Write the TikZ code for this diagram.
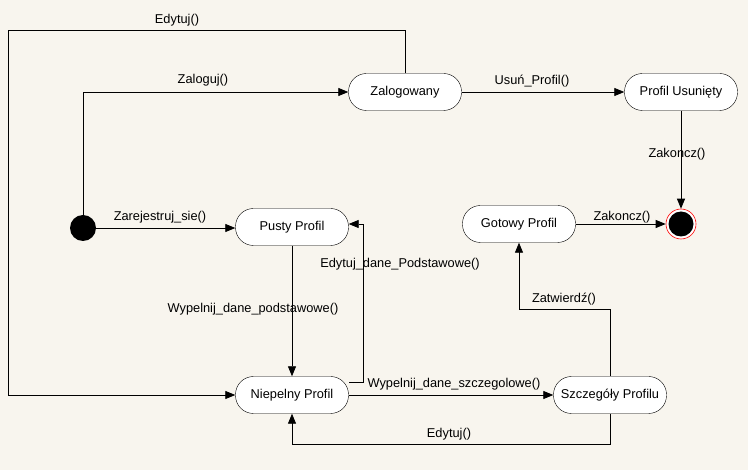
\documentclass[tikz,border=0pt]{standalone}
\usepackage{fontspec}
\setmainfont{Liberation Sans}
\usetikzlibrary{arrows.meta}
\definecolor{bg}{HTML}{F8F5EE}
\tikzset{
  state/.style={draw=black, fill=white, rounded corners=18pt, minimum width=113pt, minimum height=37pt, inner sep=0pt, font=\fontsize{12.8}{14}\selectfont},
  conn/.style={draw=black, line width=0.8pt, -{Triangle[length=10pt,width=8pt]}},
  lbl/.style={font=\fontsize{12.8}{14}\selectfont, inner sep=0pt}
}
\begin{document}
\begin{tikzpicture}[x=1pt,y=-1pt]
\fill[bg] (0,0) rectangle (748,470);
\useasboundingbox (0,0) rectangle (748,470);

% states
\node[state] (zal) at (405,92) {Zalogowany};
\node[state] (usun) at (681,92) {Profil Usunięty};
\node[state] (pusty) at (292,227) {Pusty Profil};
\node[state] (gotowy) at (519,224) {Gotowy Profil};
\node[state] (niep) at (292,395) {Niepelny Profil};
\node[state] (szcz) at (610,395) {Szczegóły Profilu};

% initial and final
\node[circle, fill=black, minimum size=26pt, inner sep=0pt] (init) at (83,228) {};
\node[circle, draw=red, fill=white, line width=0.6pt, minimum size=30pt, inner sep=0pt] (fin) at (681,224) {};
\node[circle, fill=black, minimum size=25pt, inner sep=0pt] (finin) at (681,224) {};

% waypoints
\coordinate (e1) at (405,30);
\coordinate (e2) at (8,30);
\coordinate (e3) at (8,395);
\coordinate (z1) at (83,92);
\coordinate (ed1) at (349,382);
\coordinate (ed2) at (363,382);
\coordinate (ed3) at (363,224);
\coordinate (t1) at (610,309);
\coordinate (t2) at (519,309);
\coordinate (b1) at (610,444);
\coordinate (b2) at (292,444);

% connectors
\draw[conn] (zal.north) -- (e1) -- (e2) -- (e3) -- (niep.west);
\draw[conn] (init.north) -- (z1) -- (zal.west);
\draw[conn] (zal.east) -- (usun.west);
\draw[conn] (usun.south) -- (fin.north);
\draw[conn] (gotowy.east) -- (fin.west);
\draw[conn] (init.east) -- (pusty.west |- init.east);
\draw[conn] (pusty.south) -- (niep.north);
\draw[conn] (ed1) -- (ed2) -- (ed3) -- (pusty.east |- ed3);
\draw[conn] (niep.east) -- (szcz.west);
\draw[conn] (szcz.north) -- (t1) -- (t2) -- (gotowy.south);
\draw[conn] (szcz.south) -- (b1) -- (b2) -- (niep.south);

% labels
\node[lbl] (l1) at (177,20) {Edytuj()};
\node[lbl] (l2) at (203,80) {Zaloguj()};
\node[lbl] (l3) at (532,81) {Usuń\_Profil()};
\node[lbl] (l4) at (677,154) {Zakoncz()};
\node[lbl] (l5) at (622,217) {Zakoncz()};
\node[lbl] (l6) at (160,217) {Zarejestruj\_sie()};
\node[lbl] (l7) at (253,309) {Wypelnij\_dane\_podstawowe()};
\node[lbl] (l8) at (400,264) {Edytuj\_dane\_Podstawowe()};
\node[lbl] (l9) at (454,384) {Wypelnij\_dane\_szczegolowe()};
\node[lbl] (l10) at (564,299) {Zatwierdź()};
\node[lbl] (l11) at (449,434) {Edytuj()};
\end{tikzpicture}
\end{document}
